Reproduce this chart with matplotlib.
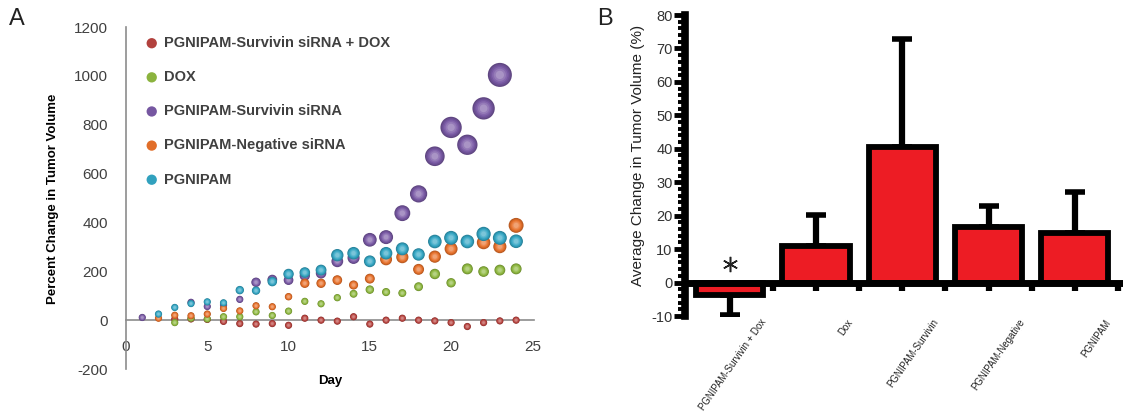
import numpy as np
import matplotlib.pyplot as plt
from matplotlib.ticker import MultipleLocator, FixedLocator
from matplotlib.transforms import ScaledTranslation
from matplotlib.colors import to_rgb

plt.rcParams["font.family"] = ["Liberation Sans", "DejaVu Sans"]
plt.rcParams["axes.unicode_minus"] = False

# ---- panel A: percent change in tumour volume per day ----
series_names = [
    "PGNIPAM-Survivin siRNA + DOX",
    "DOX",
    "PGNIPAM-Survivin siRNA",
    "PGNIPAM-Negative siRNA",
    "PGNIPAM",
]
series_colors = ["#b8433f", "#8fb940", "#7a5aa6", "#e8712a", "#33a6c4"]

days_red = [3, 4, 5, 6, 7, 8, 9, 10, 11, 12, 13, 14, 15, 16, 17, 18, 19, 20, 21, 22, 23, 24]
vals_red = [4, 5, 3, -5, -14, -16, -14, -21, 8, 0, -4, 14, -16, 0, 8, 0, -3, -10, -26, -10, -3, 0]

days_green = [3, 4, 5, 6, 7, 8, 9, 10, 11, 12, 13, 14, 15, 16, 17, 18, 19, 20, 21, 22, 23, 24]
vals_green = [-10, 8, 5, 14, 14, 34, 19, 37, 77, 67, 92, 108, 125, 115, 111, 137, 189, 153, 210, 199, 205, 210]

days_purple = [1, 4, 5, 6, 7, 8, 9, 10, 11, 12, 13, 14, 15, 16, 17, 18, 19, 20, 21, 22, 23]
vals_purple = [11, 73, 56, 62, 85, 155, 166, 164, 182, 192, 241, 255, 329, 340, 438, 517, 671, 789, 718, 867, 1004]

days_orange = [2, 3, 4, 5, 6, 7, 8, 9, 10, 11, 12, 13, 14, 15, 16, 17, 18, 19, 20, 22, 23, 24]
vals_orange = [8, 20, 18, 25, 48, 38, 59, 55, 96, 151, 151, 164, 144, 170, 249, 258, 208, 260, 292, 318, 301, 388]

days_cyan = [2, 3, 4, 5, 6, 7, 8, 9, 10, 11, 12, 13, 14, 15, 16, 17, 18, 19, 20, 21, 22, 23, 24]
vals_cyan = [25, 52, 68, 75, 71, 123, 121, 158, 189, 195, 205, 266, 274, 241, 274, 292, 269, 322, 337, 322, 353, 337, 323]

# ---- panel B: average change in tumour volume ----
groups = ["PGNIPAM-Survivin + Dox", "Dox", "PGNIPAM-Survivin", "PGNIPAM-Negative", "PGNIPAM"]
means = [-3.8, 10.8, 40.6, 16.6, 14.9]
errs = [5.9, 9.4, 32.3, 6.2, 12.1]
marks = ["*", "", "", "", ""]


def bubble_size(v):
    # bubble area grows with the value, with a floor so near-zero points stay visible
    v = np.maximum(np.abs(np.asarray(v, dtype=float)), 90)
    d_px = 24 * np.sqrt(v / 1000)
    return (d_px * 0.72) ** 2


def shade(c, f):
    # f < 0 darkens, f > 0 lightens
    r, g, b = to_rgb(c)
    if f < 0:
        return (r * (1 + f), g * (1 + f), b * (1 + f))
    return (r + (1 - r) * f, g + (1 - g) * f, b + (1 - b) * f)


fig = plt.figure(figsize=(11.23, 4.19), dpi=100)

ax = fig.add_axes([0.1122, 0.1193, 0.3633, 0.8162])
data = [
    (days_red, vals_red),
    (days_green, vals_green),
    (days_purple, vals_purple),
    (days_orange, vals_orange),
    (days_cyan, vals_cyan),
]
# concentric layers give a soft sphere look
layers = [(1.0, -0.22), (0.8, -0.12), (0.6, -0.03), (0.42, 0.08), (0.26, 0.2), (0.12, 0.35)]
for (d, v), name, col in zip(data, series_names, series_colors):
    s = bubble_size(v)
    for i, (k, f) in enumerate(layers):
        ax.scatter(d, v, s=s * k, color=shade(col, f), edgecolor="none", zorder=3,
                   label=name if i == 2 else None)

ax.set_xlim(0, 25.1)
ax.set_ylim(-200, 1200)
ax.xaxis.set_major_locator(MultipleLocator(5))
ax.yaxis.set_major_locator(MultipleLocator(200))
for sp in ["top", "right"]:
    ax.spines[sp].set_visible(False)
ax.spines["bottom"].set_position(("data", 0))
for sp in ["bottom", "left"]:
    ax.spines[sp].set_color("#8c8c8c")
    ax.spines[sp].set_linewidth(1.2)
ax.tick_params(axis="both", length=0, labelsize=11, colors="#404040")
ax.tick_params(axis="x", pad=14)
ax.tick_params(axis="y", pad=13)
ax.patch.set_alpha(0)

leg = ax.legend(loc="upper left", bbox_to_anchor=(0.013, 1.012), frameon=False,
                labelspacing=1.38, handlelength=1.0, handletextpad=0.32,
                prop={"weight": "bold", "size": 10.5})
for h in leg.legend_handles:
    h.set_sizes([55])
for t in leg.get_texts():
    t.set_color("#404040")

fig.text(0.047, 0.525, "Percent Change in Tumor Volume", rotation=90,
         ha="center", va="center", fontsize=9.5, fontweight="bold")
fig.text(0.294, 0.09, "Day", ha="center", va="center", fontsize=9.5, fontweight="bold")
fig.text(0.008, 0.955, "A", fontsize=17, ha="left", va="center", color="#222222")
fig.text(0.532, 0.955, "B", fontsize=17, ha="left", va="center", color="#222222")

# ---- panel B ----
ax2 = fig.add_axes([0.61, 0.2458, 0.39, 0.7184])
x = np.arange(len(groups))
ax2.bar(x, means, width=0.78, color="#ed1c24", edgecolor="black", linewidth=4.2, zorder=2)
lower = [e if m < 0 else 0 for m, e in zip(means, errs)]
upper = [e if m >= 0 else 0 for m, e in zip(means, errs)]
ax2.errorbar(x, means, yerr=[lower, upper], fmt="none", ecolor="black",
             elinewidth=4.5, capsize=7, capthick=4, zorder=1)
for xi, m in zip(x, marks):
    if m:
        ax2.plot(xi, 5.5, marker=(6, 2, 0), markersize=11, color="#222222",
                 markeredgewidth=1.1, zorder=4)

ax2.set_xlim(-0.52, 4.56)
ax2.set_ylim(-10, 80)
for sp in ["top", "right"]:
    ax2.spines[sp].set_visible(False)
ax2.spines["bottom"].set_position(("data", 0))
ax2.spines["bottom"].set_linewidth(5)
ax2.spines["left"].set_linewidth(5.5)
ax2.spines["bottom"].set_zorder(3)
ax2.yaxis.set_major_locator(MultipleLocator(10))
ax2.yaxis.set_minor_locator(MultipleLocator(2))
ax2.tick_params(axis="y", which="major", length=8, width=3.5, pad=1,
                labelsize=10.5, labelcolor="#333333")
ax2.tick_params(axis="y", which="minor", length=5, width=2.8)
ax2.set_xticks(x)
ax2.xaxis.set_minor_locator(FixedLocator(x + 0.5))
ax2.tick_params(axis="x", which="both", length=6, width=4.5, labelbottom=False)
ax2.patch.set_alpha(0)

off = ScaledTranslation(0.30, 0, fig.dpi_scale_trans)
for xi, g in zip(x, groups):
    ax2.text(xi, -0.005, g, transform=ax2.get_xaxis_transform() + off,
             rotation=55, rotation_mode="anchor", ha="right", va="top",
             fontsize=6.9, color="#222222")

fig.text(0.568, 0.63, "Average Change in Tumor Volume (%)", rotation=90,
         ha="center", va="center", fontsize=11, color="#222222")

fig.savefig("out.png", dpi=100)
